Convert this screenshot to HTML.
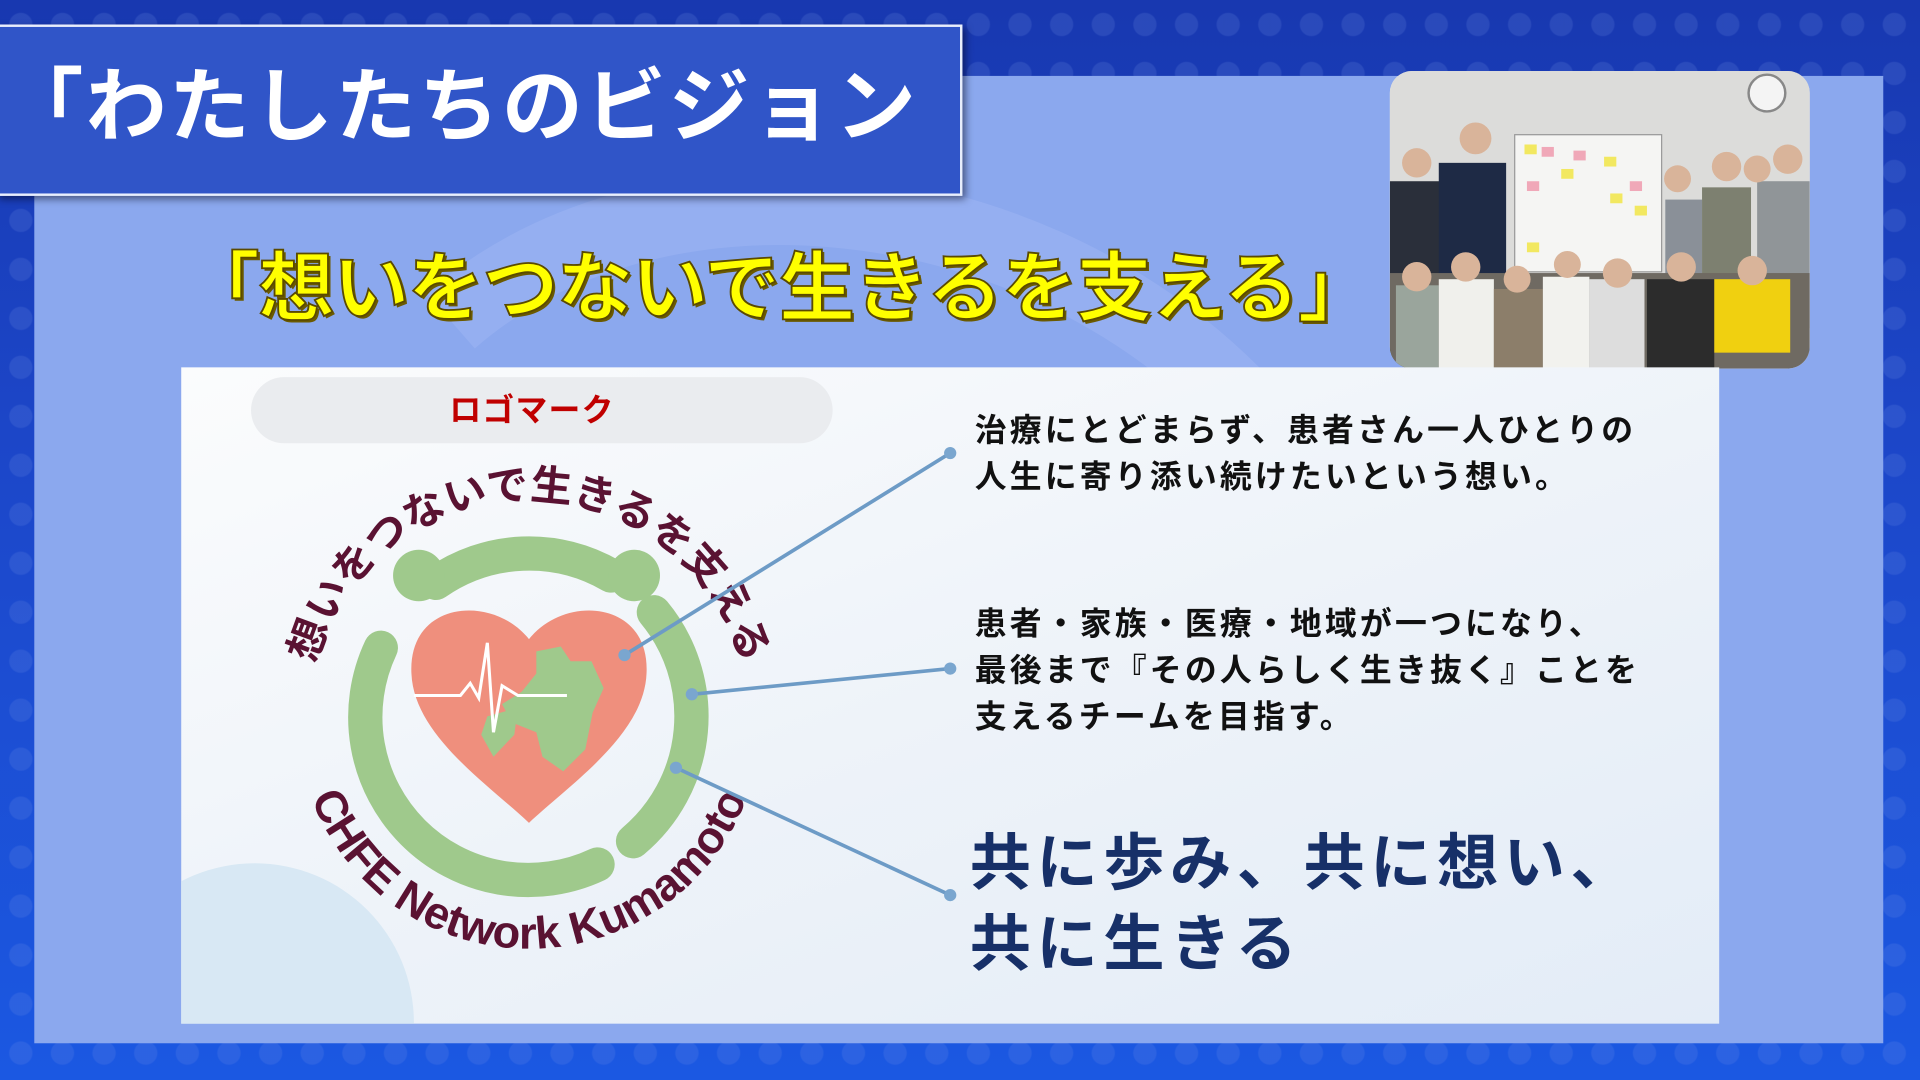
<!DOCTYPE html>
<html><head><meta charset="utf-8"><style>
html,body{margin:0;padding:0;width:1920px;height:1080px;overflow:hidden}
#s{position:absolute;left:0;top:0;width:1568px;height:882px;transform:scale(1.22449);transform-origin:0 0;
background:linear-gradient(180deg,#1838b0 0%,#1c46c8 40%,#1b58e2 100%);font-family:"Liberation Sans","Noto Sans CJK JP",sans-serif;overflow:hidden}
.dots{position:absolute;inset:0;background-image:radial-gradient(circle,rgba(120,150,230,.18) 9px,transparent 10px);background-size:34px 40px}
.panel{position:absolute;left:28px;top:62px;width:1510px;height:790px;background:#8ba8ee}
.title{position:absolute;left:-4px;top:20px;width:790px;height:140px;background:#3055c8;border:2px solid #e8eefc;box-shadow:3px 3px 6px rgba(0,0,20,.5);box-sizing:border-box}
.title span{position:absolute;left:4px;top:32px;font-size:66px;font-weight:bold;color:#fff;line-height:1;white-space:nowrap;letter-spacing:2px}
.sub{position:absolute;left:150px;top:206px;font-size:62px;font-weight:bold;color:#ffff00;line-height:1;white-space:nowrap;letter-spacing:-1px;
-webkit-text-stroke:1.5px #5a4a00;text-shadow:2px 2px 0 #6b5a00}
.photo{position:absolute;left:1135px;top:58px;width:343px;height:243px;border-radius:18px;overflow:hidden;background:#e3e3e1}
.card{position:absolute;left:148px;top:300px;width:1256px;height:536px;overflow:hidden;background:linear-gradient(160deg,#fbfcfd 0%,#eef3f9 50%,#e3ecf7 100%)}
.pill{position:absolute;left:57px;top:8px;width:475px;height:54px;border-radius:27px;background:#eaecef;text-align:center;color:#c00000;font-weight:bold;font-size:26px;line-height:54px;letter-spacing:1px;text-indent:-16px}
.t{position:absolute;left:648px;font-size:26px;font-weight:bold;color:#111;line-height:38px;letter-spacing:2.6px;white-space:nowrap}
.big{position:absolute;left:644px;top:372px;font-size:50px;font-weight:bold;color:#173068;line-height:66px;letter-spacing:4.5px;white-space:nowrap}
</style></head><body><div id="s">
<div class="dots"></div>
<div class="panel"></div>
<svg style="position:absolute;left:28px;top:62px" width="1510" height="790"><path d="M340 200 C 500 60 800 80 980 260" stroke="rgba(170,190,245,.35)" stroke-width="60" fill="none"/></svg>
<div class="title"><span>「わたしたちのビジョン</span></div>
<div class="sub">「想いをつないで生きるを支える」</div>
<div class="photo">
<svg width="343" height="243">
<rect width="343" height="243" fill="#dcdcda"/>
<circle cx="308" cy="18" r="15" fill="#f4f4f4" stroke="#888" stroke-width="2"/>
<rect x="102" y="52" width="120" height="112" fill="#f5f5f3" stroke="#999"/>
<g fill="#f2e860"><rect x="110" y="60" width="10" height="8"/><rect x="140" y="80" width="10" height="8"/><rect x="175" y="70" width="10" height="8"/><rect x="180" y="100" width="10" height="8"/><rect x="112" y="140" width="10" height="8"/><rect x="200" y="110" width="10" height="8"/></g>
<g fill="#f0a8b8"><rect x="124" y="62" width="10" height="8"/><rect x="150" y="65" width="10" height="8"/><rect x="112" y="90" width="10" height="8"/><rect x="196" y="90" width="10" height="8"/></g>
<g fill="#2a2f3a"><rect x="0" y="90" width="50" height="153"/><rect x="40" y="75" width="55" height="168" fill="#1e2a45"/><rect x="225" y="105" width="30" height="90" fill="#8a9098"/><rect x="255" y="95" width="40" height="100" fill="#7d8070"/><rect x="300" y="90" width="43" height="120" fill="#909598"/></g>
<g fill="#d9b49a"><circle cx="22" cy="75" r="12"/><circle cx="70" cy="55" r="13"/><circle cx="235" cy="88" r="11"/><circle cx="275" cy="78" r="12"/><circle cx="300" cy="80" r="11"/><circle cx="325" cy="72" r="12"/></g>
<rect x="0" y="165" width="343" height="78" fill="#6f6a62"/>
<g><rect x="5" y="175" width="35" height="68" fill="#9aa59c"/><rect x="40" y="170" width="45" height="73" fill="#f0f0ec"/><rect x="85" y="178" width="40" height="65" fill="#8c7e6a"/><rect x="125" y="168" width="38" height="75" fill="#f2f2ee"/><rect x="163" y="170" width="45" height="73" fill="#ddd"/><rect x="210" y="170" width="55" height="73" fill="#2c2c2c"/><rect x="265" y="170" width="62" height="60" fill="#f0d010"/></g>
<g fill="#d9b49a"><circle cx="22" cy="168" r="12"/><circle cx="62" cy="160" r="12"/><circle cx="104" cy="170" r="11"/><circle cx="145" cy="158" r="11"/><circle cx="186" cy="165" r="12"/><circle cx="238" cy="160" r="12"/><circle cx="296" cy="163" r="12"/></g>
</svg></div>
<div class="card">
<div style="position:absolute;left:-70px;top:405px;width:260px;height:260px;border-radius:50%;background:#d8e8f4"></div>
<div class="pill">ロゴマーク</div>
<svg style="position:absolute;left:0;top:0" width="1256" height="536">
<defs>
<path id="top" d="M105 269 A180 180 0 0 1 463 269"/>
<path id="bot" d="M100.5 334 A190 190 0 0 0 467.5 334"/>
</defs>
<text font-family="Liberation Sans,Noto Sans CJK JP,sans-serif" font-weight="bold" font-size="34" fill="#5a1232"><textPath href="#top" startOffset="50%" text-anchor="middle">想いをつないで生きるを支える</textPath></text>
<text font-family="Liberation Sans,Noto Sans CJK JP,sans-serif" font-weight="bold" font-size="37" fill="#5a1232"><textPath href="#bot" startOffset="50%" text-anchor="middle">CHFE Network Kumamoto</textPath></text>
<g fill="none" stroke="#9fc98c" stroke-width="28" stroke-linecap="round">
<path d="M208 176 A133 133 0 0 1 351 170"/>
<path d="M386 200 A133 133 0 0 1 369 387"/>
<path d="M163 229 A133 133 0 0 0 340 406"/>
</g>
<circle cx="194" cy="170" r="21" fill="#9fc98c"/>
<circle cx="370" cy="170" r="21" fill="#9fc98c"/>
<path d="M284 222 C 255 185 185 190 188 250 C 190 300 250 340 284 372 C 318 340 378 300 380 250 C 383 190 313 185 284 222 Z" fill="#ef8f7d"/>
<path d="M290 232 L310 228 L318 240 L335 240 L345 262 L336 282 L330 312 L312 330 L295 318 L290 298 L270 290 L262 275 L278 265 L290 250 Z" fill="#9fc98c"/>
<path d="M250 285 L275 278 L272 300 L255 318 L245 300 Z" fill="#9fc98c"/>
<polyline points="190,268 228,268 236,258 243,270 250,225 255,298 262,260 275,268 315,268" fill="none" stroke="#fff" stroke-width="2.5"/>
<g stroke="#6d9bc6" stroke-width="3" fill="#7aa6cf">
<line x1="362" y1="235" x2="628" y2="70"/><circle cx="362" cy="235" r="5" stroke="none"/><circle cx="628" cy="70" r="5" stroke="none"/>
<line x1="417" y1="267" x2="628" y2="246"/><circle cx="417" cy="267" r="5" stroke="none"/><circle cx="628" cy="246" r="5" stroke="none"/>
<line x1="404" y1="327" x2="628" y2="431"/><circle cx="404" cy="327" r="5" stroke="none"/><circle cx="628" cy="431" r="5" stroke="none"/>
</g>
</svg>
<div class="t" style="top:32px">治療にとどまらず、患者さん一人ひとりの<br>人生に寄り添い続けたいという想い。</div>
<div class="t" style="top:190px">患者・家族・医療・地域が一つになり、<br>最後まで『その人らしく生き抜く』ことを<br>支えるチームを目指す。</div>
<div class="big">共に歩み、共に想い、<br>共に生きる</div>
</div>
</div></body></html>
